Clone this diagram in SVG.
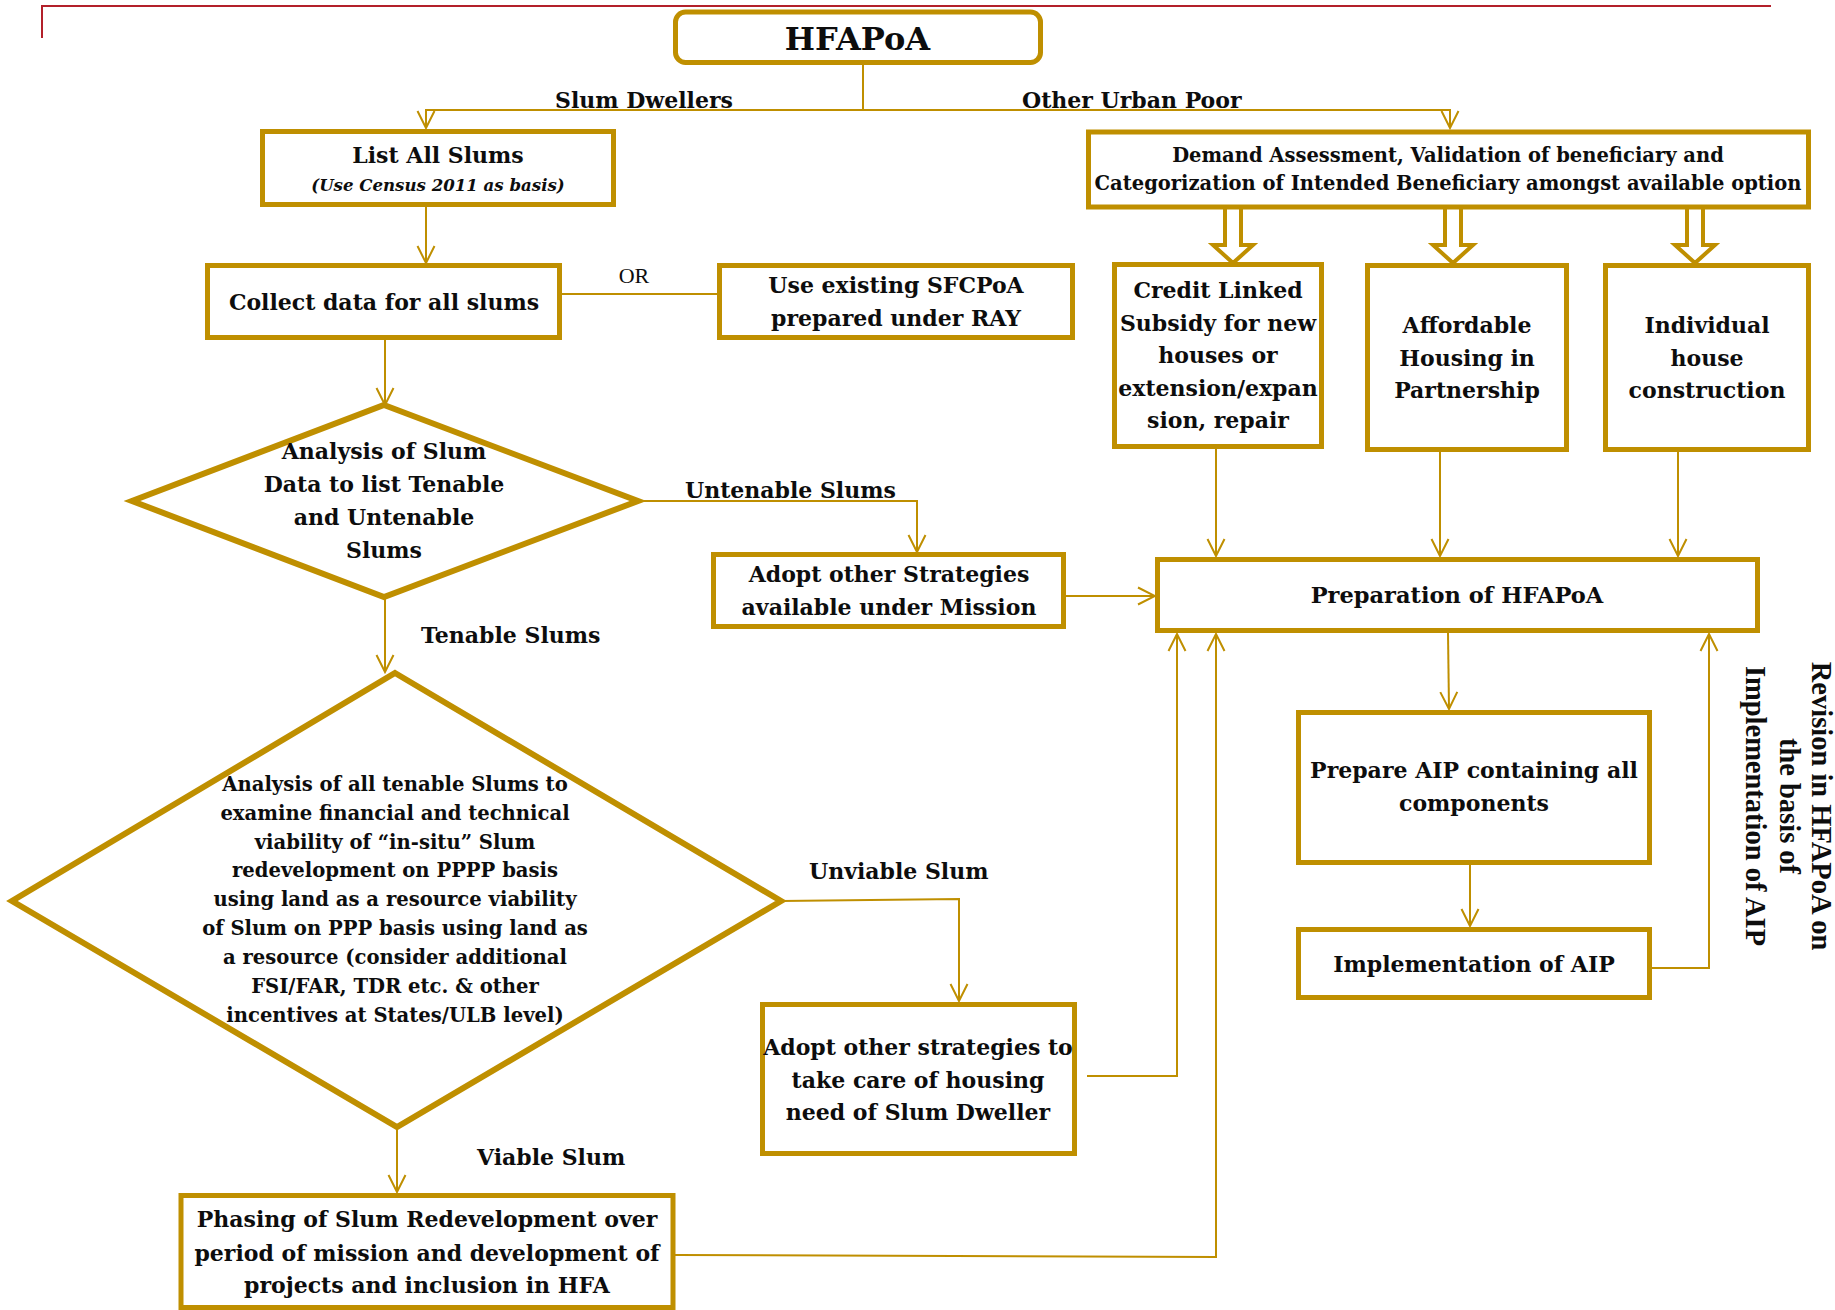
<svg xmlns="http://www.w3.org/2000/svg" width="1835" height="1310" viewBox="0 0 1835 1310">
<style>
.box{fill:#fff;stroke:#BF8F00;stroke-width:5}
.dia{fill:#fff;stroke:#BF8F00;stroke-width:6}
.ln{fill:none;stroke:#BF8F00;stroke-width:2}
.ba{fill:#fff;stroke:#BF8F00;stroke-width:4;stroke-linejoin:miter}
text{font-family:"DejaVu Serif","Liberation Serif",serif;font-weight:bold;fill:#0d0d0d}
.c{text-anchor:middle}
.t21{font-size:22px}
.t18{font-size:19.5px}
.t19{font-size:19.6px}
.lbl{font-size:22px}
.rot{font-family:"Liberation Serif",serif;font-size:28.5px}
</style>
<defs>
<marker id="ah" markerUnits="userSpaceOnUse" viewBox="-20 -11 22 22" refX="0" refY="0" markerWidth="22" markerHeight="22" orient="auto">
<path d="M-17,-8.5 L0,0 L-17,8.5" fill="none" stroke="#BF8F00" stroke-width="2"/>
</marker>
</defs>
<rect width="1835" height="1310" fill="#fff"/>
<polyline points="42,38 42,6 1771,6" fill="none" stroke="#B3202A" stroke-width="2"/>

<g id="connectors">
<path class="ln" d="M863,65 V110 H426 V128" marker-end="url(#ah)"/>
<path class="ln" d="M863,110 H1450 V128" marker-end="url(#ah)"/>
<path class="ln" d="M426,207 V263" marker-end="url(#ah)"/>
<path class="ln" d="M562,294 H719"/>
<path class="ln" d="M385,340 V405" marker-end="url(#ah)"/>
<path class="ln" d="M638,501 H917 V552" marker-end="url(#ah)"/>
<path class="ln" d="M1066,596 H1155" marker-end="url(#ah)"/>
<path class="ln" d="M385,597 V672" marker-end="url(#ah)"/>
<path class="ln" d="M781,901 L959,899 V1001" marker-end="url(#ah)"/>
<path class="ln" d="M397,1127 V1192" marker-end="url(#ah)"/>
<path class="ln" d="M1087,1076 H1177 V634" marker-end="url(#ah)"/>
<path class="ln" d="M675,1255 L1216,1257 V634" marker-end="url(#ah)"/>
<path class="ln" d="M1216,449 V556" marker-end="url(#ah)"/>
<path class="ln" d="M1440,452 V556" marker-end="url(#ah)"/>
<path class="ln" d="M1678,452 V556" marker-end="url(#ah)"/>
<path class="ln" d="M1448,633 L1449,709" marker-end="url(#ah)"/>
<path class="ln" d="M1470,864 V926" marker-end="url(#ah)"/>
<path class="ln" d="M1652,968 H1709 V634" marker-end="url(#ah)"/>
<polygon class="ba" points="1225,205 1241,205 1241,245 1253,245 1233,263 1213,245 1225,245"/>
<polygon class="ba" points="1445,205 1461,205 1461,245 1473,245 1453,263 1433,245 1445,245"/>
<polygon class="ba" points="1687,205 1703,205 1703,245 1715,245 1695,263 1675,245 1687,245"/>
<text class="lbl" x="555" y="108">Slum Dwellers</text>
<text class="lbl" x="1022" y="108">Other Urban Poor</text>
<text x="634" y="283" class="c" style="font-family:'Liberation Serif',serif;font-weight:normal;font-size:22px">OR</text>
<text class="lbl" x="685" y="498">Untenable Slums</text>
<text class="lbl" x="421" y="643">Tenable Slums</text>
<text class="lbl" x="809" y="879">Unviable Slum</text>
<text class="lbl" x="477" y="1165">Viable Slum</text>
</g>

<g id="hfapoa">
<rect class="box" x="675.5" y="12" width="365" height="50.5" rx="10" stroke-width="5.5"/>
<text class="c" x="857.5" y="50" style="font-size:32px">HFAPoA</text>
</g>

<g id="list-all-slums">
<rect class="box" x="262.5" y="131.5" width="351" height="73"/>
<text class="c t21" x="438" y="163">List All Slums</text>
<text class="c" x="438" y="191" style="font-size:16.6px;font-style:italic">(Use Census 2011 as basis)</text>
</g>

<g id="collect-data">
<rect class="box" x="207.5" y="265.5" width="352" height="72"/>
<text class="c t21" x="384" y="310">Collect data for all slums</text>
</g>

<g id="use-existing">
<rect class="box" x="719.5" y="265.5" width="353" height="72"/>
<text class="c t21" x="896" y="293">Use existing SFCPoA</text>
<text class="c t21" x="896" y="326">prepared under RAY</text>
</g>

<g id="demand-assessment">
<rect class="box" x="1088.5" y="132" width="720" height="75"/>
<text class="c t18" x="1448" y="162">Demand Assessment, Validation of beneficiary and</text>
<text class="c t18" x="1448" y="190">Categorization of Intended Beneficiary amongst available option</text>
</g>

<g id="credit-linked">
<rect class="box" x="1114.5" y="264.5" width="207" height="182"/>
<text class="c t21" x="1218" y="298">Credit Linked</text>
<text class="c t21" x="1218" y="331">Subsidy for new</text>
<text class="c t21" x="1218" y="363">houses or</text>
<text class="c t21" x="1218" y="396">extension/expan</text>
<text class="c t21" x="1218" y="428">sion, repair</text>
</g>

<g id="affordable-housing">
<rect class="box" x="1367.5" y="265.5" width="199" height="184"/>
<text class="c t21" x="1467" y="333">Affordable</text>
<text class="c t21" x="1467" y="366">Housing in</text>
<text class="c t21" x="1467" y="398">Partnership</text>
</g>

<g id="individual-house">
<rect class="box" x="1605.5" y="265.5" width="203" height="184"/>
<text class="c t21" x="1707" y="333">Individual</text>
<text class="c t21" x="1707" y="366">house</text>
<text class="c t21" x="1707" y="398">construction</text>
</g>

<g id="analysis-slum-data">
<polygon class="dia" points="384,405 638,501 384,597 132,501"/>
<text class="c t21" x="384" y="459">Analysis of Slum</text>
<text class="c t21" x="384" y="492">Data to list Tenable</text>
<text class="c t21" x="384" y="525">and Untenable</text>
<text class="c t21" x="384" y="558">Slums</text>
</g>

<g id="adopt-other-strategies-mission">
<rect class="box" x="713.5" y="554.5" width="350" height="72"/>
<text class="c t21" x="889" y="582">Adopt other Strategies</text>
<text class="c t21" x="889" y="615">available under Mission</text>
</g>

<g id="preparation-hfapoa">
<rect class="box" x="1157.5" y="559.5" width="600" height="71"/>
<text class="c t21" x="1457" y="603" style="font-size:22.5px">Preparation of HFAPoA</text>
</g>

<g id="analysis-tenable">
<polygon class="dia" points="395,673 781,901 397,1127 12,901"/>
<text class="c t19" x="395" y="791">Analysis of all tenable Slums to</text>
<text class="c t19" x="395" y="820">examine financial and technical</text>
<text class="c t19" x="395" y="849">viability of “in-situ” Slum</text>
<text class="c t19" x="395" y="877">redevelopment on PPPP basis</text>
<text class="c t19" x="395" y="906">using land as a resource  viability</text>
<text class="c t19" x="395" y="935">of Slum on PPP basis using land as</text>
<text class="c t19" x="395" y="964">a resource (consider additional</text>
<text class="c t19" x="395" y="993">FSI/FAR, TDR etc. &amp; other</text>
<text class="c t19" x="395" y="1022">incentives at States/ULB level)</text>
</g>

<g id="adopt-other-strategies-housing">
<rect class="box" x="762.5" y="1004.5" width="312" height="149"/>
<text class="c t21" x="918" y="1055">Adopt other strategies to</text>
<text class="c t21" x="918" y="1088">take care of housing</text>
<text class="c t21" x="918" y="1120">need  of Slum Dweller</text>
</g>

<g id="phasing">
<rect class="box" x="181" y="1195.5" width="492" height="112"/>
<text class="c t21" x="427" y="1227">Phasing of Slum Redevelopment over</text>
<text class="c t21" x="427" y="1261">period of mission and development of</text>
<text class="c t21" x="427" y="1293">projects and inclusion in HFA</text>
</g>

<g id="prepare-aip">
<rect class="box" x="1298.5" y="712.5" width="351" height="150"/>
<text class="c t21" x="1474" y="778">Prepare AIP containing all</text>
<text class="c t21" x="1474" y="811">components</text>
</g>

<g id="implementation-aip">
<rect class="box" x="1298.5" y="929.5" width="351" height="68"/>
<text class="c t21" x="1474" y="972">Implementation of AIP</text>
</g>

<g id="revision-note" transform="translate(1812,806) rotate(90)">
<text class="c rot" x="0" y="0">Revision in HFAPoA on</text>
<text class="c rot" x="0" y="32">the basis of</text>
<text class="c rot" x="0" y="66">Implementation of AIP</text>
</g>
</svg>
